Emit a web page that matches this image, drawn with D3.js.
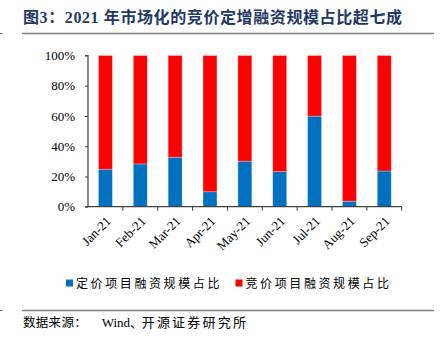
<!DOCTYPE html>
<html><head><meta charset="utf-8">
<script src="https://cdn.jsdelivr.net/npm/d3@7"></script>
<style>body{margin:0;background:#fff}svg{display:block}</style>
</head><body>
<script>
const categories = ["Jan-21","Feb-21","Mar-21","Apr-21","May-21","Jun-21","Jul-21","Aug-21","Sep-21"];
const fixedShare = [24.8,28.3,32.7,9.9,30.1,23.2,59.9,3.6,23.6];
const bidShare = fixedShare.map(v => 100 - v);
const yTicks = [0,20,40,60,80,100];
const seriesNames = ["定价项目融资规模占比","竞价项目融资规模占比"];
const colors = ["#0070C0","#FF0000"];

const W=441,H=338;
const svg=d3.select("body").append("svg").attr("width",W).attr("height",H);
const serif="'Liberation Serif','Times New Roman',serif";
const cjk="'Noto Sans CJK SC',sans-serif";

// title
svg.append("text").attr("x",23).attr("y",23).attr("font-family","'Liberation Serif','Noto Sans CJK SC',serif")
  .attr("font-weight","bold").attr("font-size",16).attr("letter-spacing","0.6px").attr("fill","#1F3864")
  .text("图3：2021 年市场化的竞价定增融资规模占比超七成");
svg.append("line").attr("x1",22).attr("x2",434).attr("y1",33.5).attr("y2",33.5).attr("stroke","#7f7f7f").attr("stroke-width",1.5);
svg.append("line").attr("x1",0).attr("x2",3).attr("y1",33.5).attr("y2",33.5).attr("stroke","#7f7f7f").attr("stroke-width",1);

const x=d3.scaleBand().domain(categories).range([88,401.7]).paddingInner(0.6).paddingOuter(0.3);
const y=d3.scaleLinear().domain([0,100]).range([206.7,55.5]);

const stack=d3.stack().keys(["a","b"])(categories.map((c,i)=>({c,a:fixedShare[i],b:bidShare[i]})));
stack.forEach((s,k)=>{
  svg.append("g").selectAll("rect").data(s).enter().append("rect")
    .attr("x",d=>x(d.data.c)).attr("width",x.bandwidth())
    .attr("y",d=>y(d[1])).attr("height",d=>y(d[0])-y(d[1]))
    .attr("fill",colors[k]).attr("stroke","#ffffff").attr("stroke-opacity",0.35).attr("stroke-width",0.8);
});

// y axis
const ya=svg.append("g").attr("transform","translate(88,0)")
  .call(d3.axisLeft(y).tickValues(yTicks).tickFormat(d=>d+"%").tickSize(3).tickPadding(10));
ya.select(".domain").attr("stroke","#404040").attr("stroke-width",1.2).attr("d","M-3,"+y(100)+"H0V"+y(0)+"H-3");
ya.selectAll(".tick line").attr("stroke","#404040");
ya.selectAll("text").attr("font-family",serif).attr("font-size",13).attr("fill","#000");

// x axis
const xa=svg.append("g").attr("transform","translate(0,"+y(0)+")");
xa.append("line").attr("x1",88).attr("x2",401.7).attr("stroke","#404040").attr("stroke-width",1.2);
const bounds=d3.range(1,categories.length+1).map(i=>88+i*(401.7-88)/categories.length);
xa.selectAll("line.t").data(bounds).enter().append("line").attr("class","t")
  .attr("x1",d=>d).attr("x2",d=>d).attr("y1",0).attr("y2",4).attr("stroke","#404040").attr("stroke-width",1);
xa.selectAll("text").data(categories).enter().append("text")
  .attr("transform",d=>"translate("+(x(d)+x.bandwidth()/2+3)+",12) rotate(-45)")
  .attr("text-anchor","end").attr("dy","0.35em")
  .attr("font-family",serif).attr("font-size",13).attr("fill","#000").text(d=>d);

// legend
const lg=svg.append("g");
const lx=[66,235.5];
seriesNames.forEach((n,i)=>{
  lg.append("rect").attr("x",lx[i]).attr("y",279.5).attr("width",7).attr("height",7).attr("fill",colors[i]);
  lg.append("text").attr("x",lx[i]+10).attr("y",287.5).attr("font-family",cjk).attr("font-size",12)
    .attr("letter-spacing","2.6px").attr("fill","#000").text(n);
});

// bottom line & source
svg.append("line").attr("x1",22).attr("x2",434).attr("y1",310.5).attr("y2",310.5).attr("stroke","#7f7f7f").attr("stroke-width",1.5);
svg.append("line").attr("x1",0).attr("x2",3).attr("y1",310.5).attr("y2",310.5).attr("stroke","#7f7f7f").attr("stroke-width",1);
const src=svg.append("g").attr("font-size",13).attr("fill","#000");
src.append("text").attr("x",23).attr("y",327).attr("font-family",cjk).attr("font-size",12.5).attr("letter-spacing","0.3px").text("数据来源：");
src.append("text").attr("x",101.7).attr("y",327).attr("font-family",serif).text("Wind");
src.append("text").attr("x",130).attr("y",327).attr("font-family",cjk).text("、");
src.append("text").attr("x",141.7).attr("y",327).attr("font-family",cjk).attr("letter-spacing","2.2px").text("开源证券研究所");
</script>
</body></html>
